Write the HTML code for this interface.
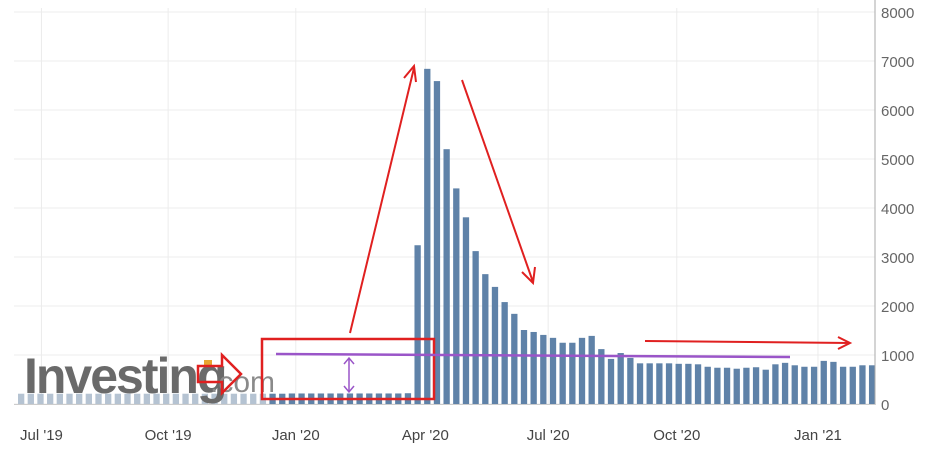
<!DOCTYPE html>
<html><head><meta charset="utf-8"><style>
body{margin:0;background:#fff;}
svg{display:block;font-family:"Liberation Sans",sans-serif;}
</style></head><body>
<svg width="930" height="451" id="chart">
<g id="grid"></g>
<g id="bars"></g>
<g id="yticks"></g>
<g id="xticks"></g>
<g>
<text x="24" y="393" font-size="50" font-weight="bold" fill="#6a6a6a" letter-spacing="-2">Investing</text>
<text x="210" y="392" font-size="30" fill="#8a8a8a">.com</text>
<rect x="204" y="360" width="8" height="7" fill="#e8a530"/>
</g>
<g fill="none">
<rect x="262" y="339" width="172" height="60" stroke="#e02020" stroke-width="2.5"/>
<line x1="276" y1="354" x2="790" y2="357" stroke="#9a55c8" stroke-width="2.5"/>
<path d="M349 358 V392 M344 364 L349 358 L354 364 M344 386 L349 392 L354 386" stroke="#9a55c8" stroke-width="1.5"/>
<path d="M350 333 L414 68 M404 78 L414 66 L416 82" stroke="#e02020" stroke-width="2"/>
<path d="M462 80 L533 282 M522 272 L533 283 L535 267" stroke="#e02020" stroke-width="2"/>
<path d="M645 341 L850 343 M838 337 L850 343 L838 349" stroke="#e02020" stroke-width="2"/>
<path d="M198 366 H222 V355 L241 374 L222 393 V382 H198 Z" stroke="#e02020" stroke-width="2.5"/>
</g>
</svg>
<script>
const pre = [210,210,210,210,210,210,210,210,210,210,210,210,210,210,210,210,210,210,210,210,210,210,210,210,210,210,210,210,215,215,215,215,215,215,215,215,215,215,215,215,220];
const post = [220,3240,6840,6590,5200,4400,3810,3120,2650,2390,2080,1840,1510,1470,1410,1350,1250,1250,1350,1390,1120,920,1040,940,830,830,830,830,820,820,810,760,740,740,720,740,750,700,810,840,790,760,760,880,860,760,760,790,790];
const values = pre.concat(post.slice(1));
const yTicks = [0,1000,2000,3000,4000,5000,6000,7000,8000];
const xLabels = ["Jul '19","Oct '19","Jan '20","Apr '20","Jul '20","Oct '20","Jan '21"];
const xLabelIdx = [2.1,15.2,28.4,41.8,54.5,67.8,82.4];
const NS="http://www.w3.org/2000/svg";
const y0=404, pxPer=49/1000, x0=18, step=9.67, bw=6.3, right=875;
const yS=v=>y0-v*pxPer, xS=i=>x0+i*step;
function mk(t,a,p){const e=document.createElementNS(NS,t);for(const k in a)e.setAttribute(k,a[k]);p.appendChild(e);return e;}
const grid=document.getElementById('grid'), bars=document.getElementById('bars'), yt=document.getElementById('yticks'), xt=document.getElementById('xticks');
yTicks.forEach(v=>{
  const l=mk('line',{x1:14,x2:right,y1:yS(v),y2:yS(v),stroke:'#ececec'},grid);
  
  
  const t=mk('text',{x:881,y:yS(v)+6,'font-size':15,fill:'#666'},yt);
  t.textContent=v;
  
  
});
xLabels.forEach((s,i)=>{
  const x=xS(xLabelIdx[i])+bw/2;
  const l=mk('line',{x1:x,x2:x,y1:8,y2:y0,stroke:'#ececec'},grid);
  
  
  const t=mk('text',{x:x,y:440,'font-size':15,fill:'#444','text-anchor':'middle'},xt);
  t.textContent=s;
  
  
});
const ax=mk('line',{x1:right,x2:right,y1:0,y2:y0+1,stroke:'#aaa'},yt);


const bx=mk('line',{x1:14,x2:right,y1:y0+0.5,y2:y0+0.5,stroke:'#ccc'},yt);


values.forEach((v,i)=>{
  const x=xS(i);
  const r=mk('rect',{x:x,y:yS(v),width:bw,height:y0-yS(v),fill:x<268?'#b5c3d2':'#5f82a8'},bars);
  
  
});
</script>
</body></html>
